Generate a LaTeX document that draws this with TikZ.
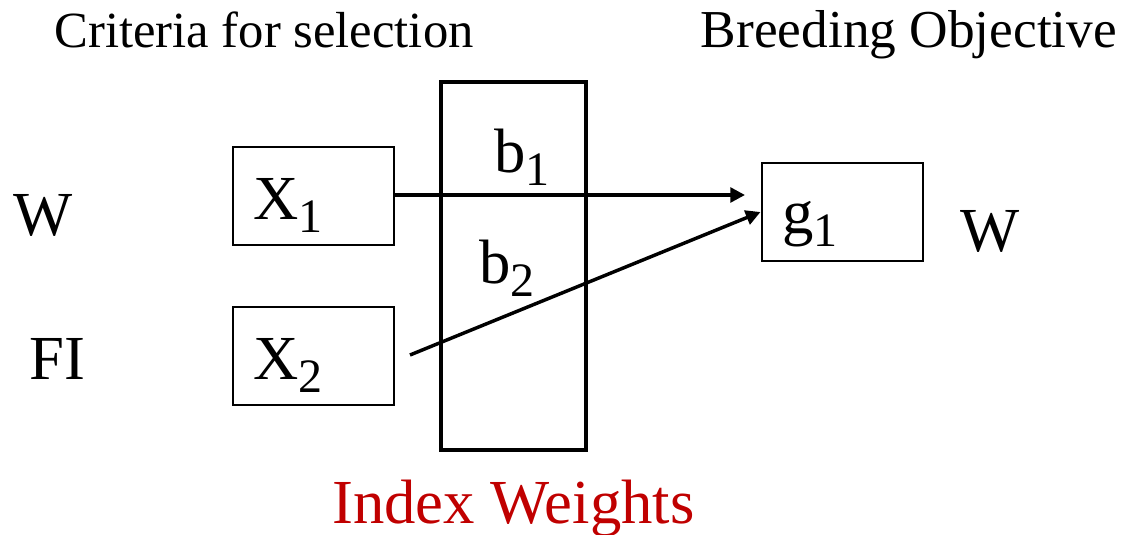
\documentclass[tikz,border=0pt]{standalone}
\usepackage{fontspec}
\setmainfont{Liberation Serif}
\usetikzlibrary{arrows.meta}
\definecolor{idxred}{RGB}{192,0,0}
\newcommand{\mysub}[1]{\raisebox{-10pt}{\fontsize{36}{36}\selectfont #1}}
\begin{document}
\begin{tikzpicture}[x=0.75pt,y=-0.75pt,
  thinbox/.style={draw=black,line width=1.5pt,inner sep=0pt,minimum width=120.75pt,minimum height=73.5pt},
  thickbox/.style={draw=black,line width=3pt,inner sep=0pt,minimum width=108.75pt,minimum height=276pt},
  head/.style={inner sep=0pt,font=\fontsize{38}{38}\selectfont,anchor=base},
  lab/.style={inner sep=0pt,font=\fontsize{47}{47}\selectfont},
  arr/.style={line width=2.6pt,-{Triangle[length=11pt,width=11pt]}}]
\useasboundingbox (0,0) rectangle (1121,535);
% headers
\node[head] (crit) at (264,48) {Criteria for selection};
\node[head,font=\fontsize{40}{40}\selectfont] (obj) at (909,48) {Breeding Objective};
% left labels
\node[lab,anchor=base] (wl) at (43,235) {W};
\node[lab,anchor=base] (fi) at (57.5,379) {FI};
% boxes
\node[thinbox] (x1) at (313.5,196) {};
\node[thinbox] (x2) at (313.5,356) {};
\node[thickbox] (mid) at (513.5,266) {};
\node[thinbox] (g1) at (842,212) {};
% box texts
\node[lab,anchor=base west] (x1t) at (253,219) {X\mysub{1}};
\node[lab,anchor=base west] (x2t) at (253,379) {X\mysub{2}};
\node[lab,anchor=base west] (b1) at (494,172) {b\mysub{1}};
\node[lab,anchor=base west] (b2) at (479,283) {b\mysub{2}};
\node[lab,anchor=base west] (g1t) at (782,233) {g\mysub{1}};
\node[lab,anchor=base] (wr) at (990,251) {W};
\node[lab,anchor=base,text=idxred] (iw) at (513.5,523) {Index Weights};
% arrows
\coordinate (tip1) at (745,195);
\coordinate (s2) at (410,355);
\draw[arr] (x1.east |- tip1) -- (tip1);
\draw[arr] (s2) -- (g1.west);
\end{tikzpicture}
\end{document}
